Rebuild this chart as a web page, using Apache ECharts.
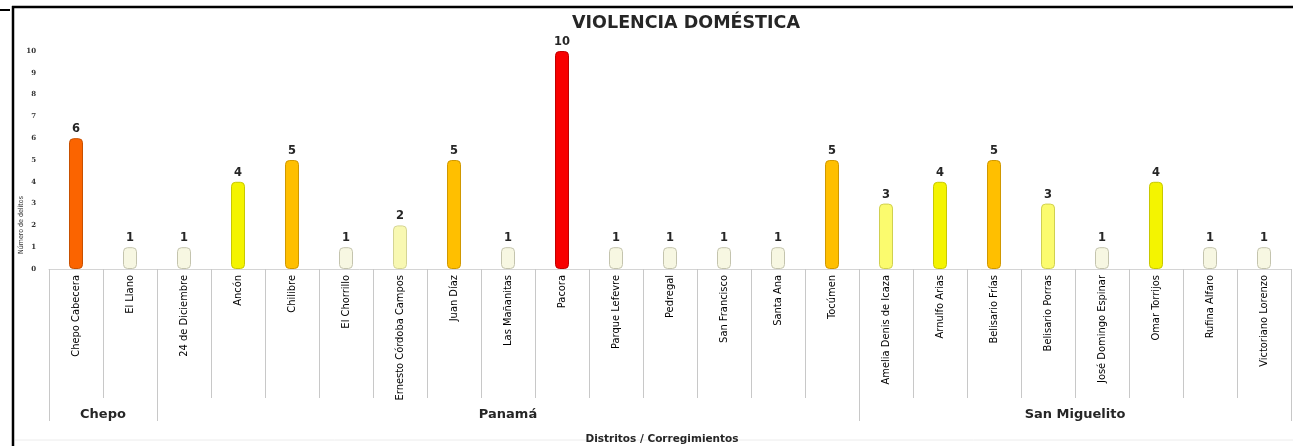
<!DOCTYPE html>
<html>
<head>
<meta charset="utf-8">
<script src="https://cdn.jsdelivr.net/npm/echarts@6/dist/echarts.min.js"></script>
<style>
  html, body { margin: 0; padding: 0; background: #fff; }
  #chart { width: 1293px; height: 446px; }
</style>
</head>
<body>
<div id="chart"></div>
<script>
// corregimientos, in order
const categories = [
  'Chepo Cabecera', 'El Llano',
  '24 de Diciembre', 'Ancón', 'Chilibre', 'El Chorrillo', 'Ernesto Córdoba Campos',
  'Juan Díaz', 'Las Mañanitas', 'Pacora', 'Parque Lefevre', 'Pedregal',
  'San Francisco', 'Santa Ana', 'Tocúmen',
  'Amelia Denis de Icaza', 'Arnulfo Arias', 'Belisario Frías', 'Belisario Porras',
  'José Domingo Espinar', 'Omar Torrijos', 'Rufina Alfaro', 'Victoriano Lorenzo'
];
const delitos = [6, 1, 1, 4, 5, 1, 2, 5, 1, 10, 1, 1, 1, 1, 5, 3, 4, 5, 3, 1, 4, 1, 1];

// districts and how many corregimientos each one spans
const distritos = ['Chepo', 'Panamá', 'San Miguelito'];
const distritoSpan = [2, 13, 8];

const yTicks = [0, 1, 2, 3, 4, 5, 6, 7, 8, 9, 10];

// colour by value
const fillByValue = {
  1: '#f7f7e2', 2: '#f8f8b2', 3: '#fbfb6e', 4: '#f4f400',
  5: '#ffbf00', 6: '#fb6400', 10: '#f80000'
};
const edgeByValue = {
  1: '#c4c4ae', 2: '#d4d494', 3: '#d0d050', 4: '#c8c800',
  5: '#d09800', 6: '#c85000', 10: '#c00000'
};

// boundaries and centres of the district groups
const bounds = [0];
distritoSpan.forEach(s => bounds.push(bounds[bounds.length - 1] + s));
const centres = distritoSpan.map((s, i) => bounds[i] + s / 2);

const narrow = "'DejaVu Sans Condensed', 'Liberation Sans'";
const bold = "'DejaVu Sans', Verdana, sans-serif";

const chart = echarts.init(document.getElementById('chart'));

const option = {
  animation: false,
  title: [
    {
      text: 'VIOLENCIA DOMÉSTICA',
      left: 681, top: 9, textAlign: 'center',
      textStyle: { fontFamily: bold, fontWeight: 'bold', fontSize: 17.5, color: '#262626' }
    },
    {
      text: 'Distritos / Corregimientos',
      left: 657, top: 429, textAlign: 'center',
      textStyle: { fontFamily: bold, fontWeight: 'bold', fontSize: 10.5, color: '#262626' }
    }
  ],
  graphic: [
    { type: 'line', shape: { x1: 12, y1: 7, x2: 1293, y2: 7 }, style: { stroke: '#000', lineWidth: 2.5 } },
    { type: 'line', shape: { x1: 13, y1: 6, x2: 13, y2: 446 }, style: { stroke: '#000', lineWidth: 2.5 } },
    { type: 'line', shape: { x1: 0, y1: 10, x2: 10, y2: 10 }, style: { stroke: '#000', lineWidth: 2 } },
    { type: 'line', shape: { x1: 15, y1: 440, x2: 1293, y2: 440 }, style: { stroke: '#ececec', lineWidth: 1 } },
    {
      type: 'text', x: 21, y: 225, rotation: Math.PI / 2,
      style: {
        text: 'Número de delitos', fontFamily: narrow, fontSize: 7,
        fill: '#333', align: 'center', verticalAlign: 'middle'
      }
    }
  ],
  grid: { left: 49, right: 2, top: 51, bottom: 177 },
  xAxis: [
    {
      type: 'category',
      data: categories,
      axisLine: { show: true, lineStyle: { color: '#d4d4d4' } },
      axisTick: { show: true, interval: 0, length: 129, lineStyle: { color: '#c8c8c8' } },
      axisLabel: {
        interval: 0, rotate: 90, margin: 6,
        fontFamily: narrow, fontSize: 11, color: '#000'
      }
    },
    {
      type: 'value',
      min: 0, max: categories.length,
      position: 'bottom',
      axisLine: { show: false },
      splitLine: { show: false },
      axisTick: {
        show: true, length: 152, lineStyle: { color: '#c8c8c8' },
        customValues: bounds
      },
      axisLabel: {
        margin: 139,
        customValues: centres,
        formatter: v => distritos[centres.indexOf(v)] || '',
        fontFamily: bold, fontWeight: 'bold', fontSize: 13, color: '#262626'
      }
    }
  ],
  yAxis: {
    type: 'value',
    min: 0, max: 10, interval: 1,
    axisLine: { show: false },
    axisTick: { show: false },
    splitLine: { show: false },
    axisLabel: {
      margin: 13,
      formatter: v => (yTicks.includes(v) ? String(v) : ''),
      fontFamily: 'DejaVu Serif', fontWeight: 'bold', fontSize: 7, color: '#333'
    }
  },
  series: [
    {
      type: 'bar',
      xAxisIndex: 0,
      data: delitos.map(v => ({
        value: v,
        itemStyle: { color: fillByValue[v], borderColor: edgeByValue[v] }
      })),
      barWidth: 14,
      itemStyle: { borderWidth: 1, borderRadius: 4 },
      label: {
        show: true, position: 'top', distance: 3,
        fontFamily: bold, fontWeight: 'bold', fontSize: 11.5, color: '#262626'
      }
    }
  ]
};

option && chart.setOption(option);
</script>
</body>
</html>
